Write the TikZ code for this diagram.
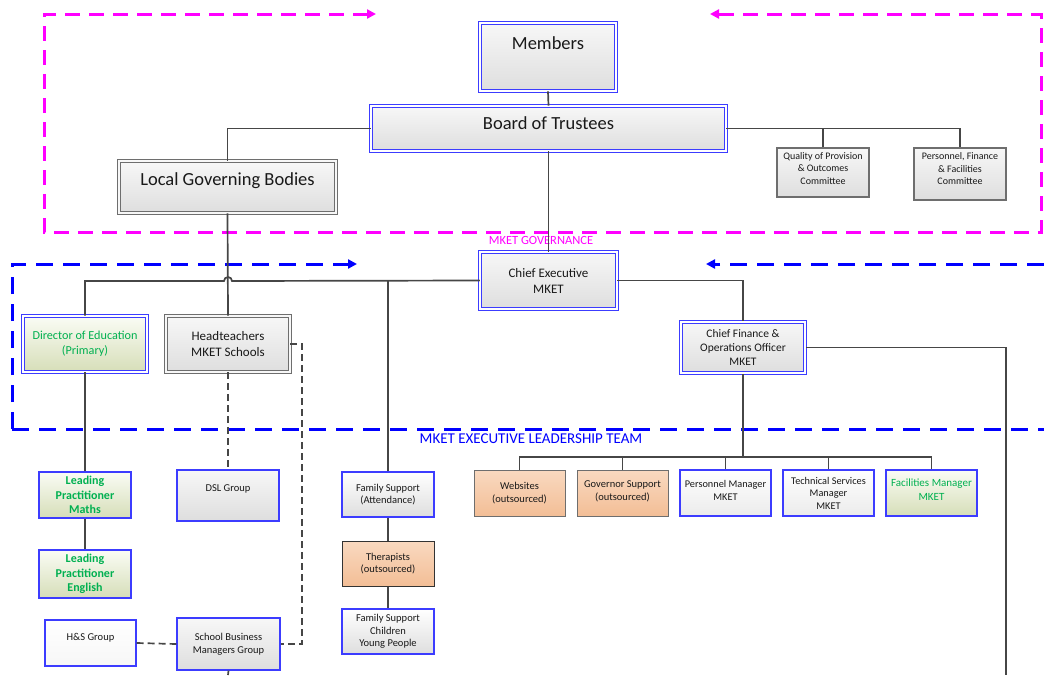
\documentclass[tikz,border=0pt]{standalone}
\usepackage{fontspec}
\setmainfont{Carlito}
\usetikzlibrary{arrows.meta}
\definecolor{mag}{RGB}{255,0,255}
\definecolor{dblue}{RGB}{0,0,255}
\definecolor{bblue}{RGB}{60,60,255}
\definecolor{lgray}{RGB}{70,70,70}
\definecolor{bgray}{RGB}{110,110,110}
\definecolor{gtext}{RGB}{0,176,80}
\definecolor{txt}{RGB}{25,25,25}
\definecolor{gtop}{RGB}{247,247,247}
\definecolor{gbot}{RGB}{222,222,222}
\definecolor{grtop}{RGB}{250,252,245}
\definecolor{grbot}{RGB}{214,222,184}
\definecolor{otop}{RGB}{249,217,192}
\definecolor{obot}{RGB}{243,190,150}
\newcommand\setfs[2]{\fontsize{#1}{#2}\selectfont}
\tikzset{
  x=1pt, y=-1pt,
  conn/.style={draw=lgray, line width=1.7pt},
  dconn/.style={conn, dash pattern=on 7pt off 4pt},
  base/.style={rectangle, align=center, inner sep=1pt, text=txt},
  greyfill/.style={top color=gtop, bottom color=gbot},
  greenfill/.style={top color=grtop, bottom color=grbot, text=gtext},
  orangefill/.style={top color=otop, bottom color=obot},
  dblbox/.style={base, greyfill, draw=bblue, line width=0.9pt, double=white, double distance=1.5pt},
  dgbox/.style={base, greyfill, draw=bgray, line width=0.9pt, double=gtop, double distance=1.5pt},
  bluebox/.style={base, greyfill, draw=bblue, line width=1.1pt},
  greybox/.style={base, greyfill, draw=bgray, line width=1.1pt},
  obox/.style={base, orangefill, draw=bgray, line width=1pt},
  magline/.style={draw=mag, line width=3pt, dash pattern=on 15pt off 9pt, {Triangle[length=9pt,width=9pt]}-{Triangle[length=9pt,width=9pt]}},
  blueline/.style={draw=dblue, line width=3pt, dash pattern=on 17pt off 10pt},
}
\begin{document}
\begin{tikzpicture}
\useasboundingbox (0,0) rectangle (1044,675);
% frames
\draw[magline] (376,14) -- (44,14) -- (44,232) -- (1041,232) -- (1041,14) -- (710,14);
\draw[blueline, -{Triangle[length=9pt,width=9pt]}] (12,429) -- (12,264) -- (357,264);
\draw[blueline] (12,429) -- (1044,429);
\draw[blueline, -{Triangle[length=9pt,width=9pt]}] (1044,264) -- (706,264);
\node[text=mag, font=\setfs{12.5}{14}] (govlbl) at (541,240) {MKET GOVERNANCE};
\node[text=dblue, font=\setfs{15}{17}] (eltlbl) at (531,439) {MKET EXECUTIVE LEADERSHIP TEAM};

% governance
\node[dblbox, minimum width=136pt, minimum height=68pt, font=\setfs{18.5}{22}, text depth=28pt] (mem) at (548,57) {Members};
\node[dblbox, minimum width=355pt, minimum height=45pt, font=\setfs{18.5}{22}, text depth=10pt] (bot) at (548.5,128.5) {Board of Trustees};
\node[dgbox, minimum width=217pt, minimum height=52pt, font=\setfs{18.5}{22}, text depth=16pt] (lgb) at (227.5,187) {Local Governing Bodies};
\node[greybox, minimum width=92pt, minimum height=49pt, font=\setfs{10}{12.5}, text depth=8pt] (qpo) at (823,172.5) {Quality of Provision\\\& Outcomes\\Committee};
\node[greybox, minimum width=92pt, minimum height=52pt, font=\setfs{10}{12.5}, text depth=10pt] (pff) at (960,174) {Personnel, Finance\\\& Facilities\\Committee};

% executive
\node[dblbox, minimum width=137pt, minimum height=57pt, font=\setfs{13}{16}] (ce) at (548.5,280.5) {Chief Executive\\MKET};
\node[dblbox, greenfill, minimum width=124pt, minimum height=56pt, font=\setfs{12.2}{15}] (doe) at (85,344) {Director of Education\\(Primary)};
\node[dgbox, minimum width=124pt, minimum height=56pt, font=\setfs{13}{16}] (head) at (228,344) {Headteachers\\MKET Schools};
\node[dblbox, line width=1.5pt, double distance=1.6pt, minimum width=124pt, minimum height=51pt, font=\setfs{11.5}{14}] (cfo) at (743,347.5) {Chief Finance \&\\Operations Officer\\MKET};

% lower
\node[bluebox, greenfill, minimum width=92pt, minimum height=46pt, font=\bfseries\setfs{12}{14.5}] (lpm) at (85,495) {Leading\\Practitioner\\Maths};
\node[bluebox, greenfill, minimum width=92pt, minimum height=48pt, font=\bfseries\setfs{12}{14.5}] (lpe) at (85,574) {Leading\\Practitioner\\English};
\node[bluebox, top color=white, bottom color=gtop, minimum width=91pt, minimum height=46pt, font=\setfs{10.5}{13}, text depth=12pt] (hs) at (90.5,643) {H\&S Group};
\node[bluebox, minimum width=103pt, minimum height=52pt, font=\setfs{10.5}{13}] (sbm) at (228.5,644) {School Business\\Managers Group};
\node[bluebox, minimum width=102pt, minimum height=51pt, font=\setfs{10.5}{13}, text depth=14pt] (dsl) at (228,495.5) {DSL Group};
\node[bluebox, top color=white, bottom color=gbot, minimum width=92pt, minimum height=45pt, font=\setfs{10.5}{12.5}] (fsa) at (388,494.5) {Family Support\\(Attendance)};
\node[obox, draw=black!80, minimum width=92pt, minimum height=45pt, font=\setfs{10.5}{12.5}] (ther) at (388,563.5) {Therapists\\(outsourced)};
\node[bluebox, top color=white, bottom color=gbot, minimum width=92pt, minimum height=45pt, font=\setfs{10.5}{12.5}] (fsc) at (388,631.5) {Family Support\\Children\\Young People};
\node[obox, minimum width=91pt, minimum height=46pt, font=\setfs{10.5}{12.5}] (web) at (519.5,493) {Websites\\(outsourced)};
\node[obox, minimum width=91pt, minimum height=46pt, font=\setfs{10.5}{12.5}, text depth=5pt] (gov) at (622.5,493) {Governor Support\\(outsourced)};
\node[bluebox, top color=white, bottom color=gbot!60, minimum width=91pt, minimum height=46pt, font=\setfs{10.3}{12.5}, text depth=5pt] (pm) at (725.5,493) {Personnel Manager\\MKET};
\node[bluebox, top color=white, bottom color=gbot!60, minimum width=91pt, minimum height=46pt, font=\setfs{10.3}{12.5}] (tsm) at (828.5,493) {Technical Services\\Manager\\MKET};
\node[bluebox, greenfill, minimum width=91pt, minimum height=46pt, font=\setfs{11}{14}, text depth=6pt] (fm) at (931.5,493) {Facilities Manager\\MKET};

% coordinates
\coordinate (bus) at (743,457);
\coordinate (cfoend) at (1006,675);
\coordinate (sbmend) at (228,675);
\coordinate (htturn) at (302,344);

% connectors
\draw[conn] (mem.south) -- (bot.north);
\draw[conn] (bot.west) -| (lgb.north);
\draw[conn] (bot.east) -| (pff.north);
\draw[conn] (qpo.north) |- (bot.east);
\draw[conn] (bot.south) -- (ce.north);
\draw[conn] (lgb.south) -- (head.north);
\draw[conn] (ce.west) -- (232,281) arc (0:-180:4) -- (85,281) -- (doe.north);
\draw[conn] (ce.east) -| (cfo.north);
\draw[conn] (fsa.north) |- (ce.west);
\draw[conn] (doe.south) -- (lpm.north);
\draw[conn] (lpm.south) -- (lpe.north);
\draw[dconn] (head.south) -- (dsl.north);
\draw[dconn] (head.east) -- (htturn) |- (sbm.east);
\draw[dconn] (hs.east) -- (sbm.west);
\draw[conn] (sbm.south) -- (sbmend);
\draw[conn] (fsa.south) -- (ther.north);
\draw[conn] (ther.south) -- (fsc.north);
\draw[conn] (cfo.south) -- (bus);
\draw[conn] (web.north) |- (bus);
\draw[conn] (fm.north) |- (bus);
\draw[conn] (gov.north) |- (bus);
\draw[conn] (pm.north) |- (bus);
\draw[conn] (tsm.north) |- (bus);
\draw[conn] (cfo.east) -| (cfoend);
\end{tikzpicture}
\end{document}
